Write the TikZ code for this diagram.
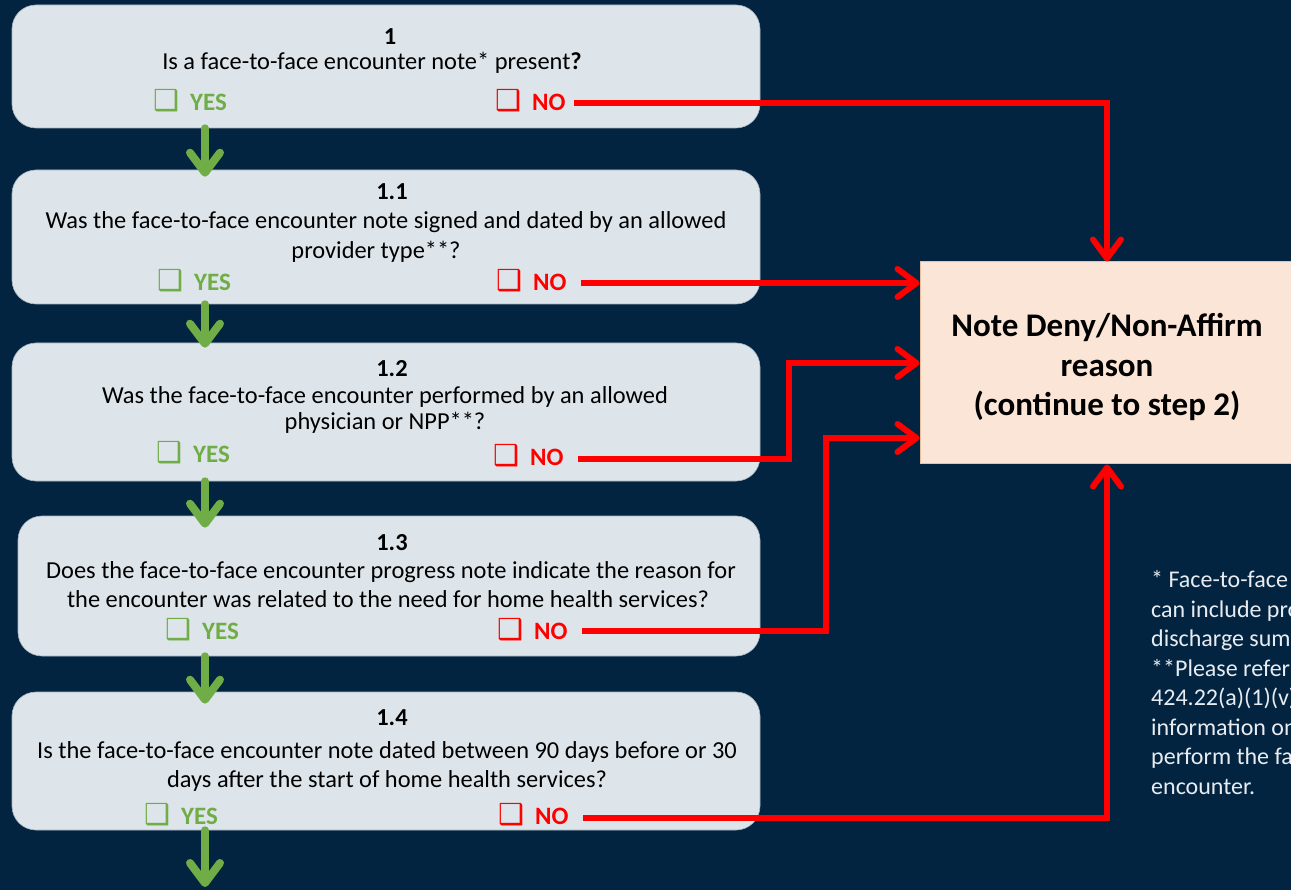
\documentclass[tikz,border=0pt]{standalone}
\usepackage{fontspec}
\setmainfont{Carlito}
\newfontfamily\symfont{DejaVu Sans}
\usetikzlibrary{arrows.meta,calc}
\definecolor{navy}{RGB}{2,36,64}
\definecolor{stepfill}{RGB}{222,229,234}
\definecolor{stepline}{RGB}{165,178,192}
\definecolor{okgreen}{RGB}{112,173,71}
\definecolor{nored}{RGB}{255,0,0}
\definecolor{denyfill}{RGB}{251,229,214}
\definecolor{denyline}{RGB}{232,192,160}
\definecolor{notetext}{RGB}{232,236,240}
% shadowed check box followed by its answer
\newcommand{\chk}[1]{\makebox[37pt][l]{\symfont\fontsize{29}{29}\selectfont ❑}#1}
\begin{document}
\begin{tikzpicture}[x=1pt,y=-1pt,
  stepbox/.style={draw=stepline, line width=0.6pt, fill=stepfill,
    rounded corners=24pt, minimum width=748pt, inner sep=0pt},
  numtxt/.style={font=\fontsize{24.4}{29}\selectfont\bfseries, text=black,
    inner sep=0pt, anchor=base},
  qtxt/.style={font=\fontsize{24.4}{29}\selectfont, text=black,
    inner sep=0pt, anchor=base},
  yesbox/.style={font=\fontsize{25}{29}\selectfont\bfseries, text=okgreen,
    inner sep=0pt, anchor=base west},
  nobox/.style={font=\fontsize{25}{29}\selectfont\bfseries, text=nored,
    inner sep=0pt, anchor=base west},
  goarrow/.style={draw=okgreen, line width=8pt, line cap=round,
    -{Straight Barb[length=20pt, width=30pt, line cap=round, line join=round]}},
  stoparrow/.style={draw=nored, line width=6pt, line join=miter,
    -{Straight Barb[length=19pt, width=28pt, line cap=round, line join=round]}},
]
% canvas
\useasboundingbox (0,0) rectangle (1291,890);
\fill[navy] (0,0) rectangle (1291,890);
\clip (0,0) rectangle (1291,890);

% question boxes
\node[stepbox, minimum height=123pt] (box1)  at (386,66.5) {};
\node[stepbox, minimum height=134pt] (box11) at (386,237) {};
\node[stepbox, minimum height=138pt] (box12) at (386,412) {};
\node[stepbox, minimum height=140pt, minimum width=742pt] (box13) at (389,586) {};
\node[stepbox, minimum height=138pt] (box14) at (386,761) {};

% outcome box
\node[draw=denyline, line width=1pt, fill=denyfill, minimum width=374pt,
  minimum height=202pt, inner sep=0pt] (deny) at (1107,363) {};
\node[align=center, inner sep=0pt, font=\fontsize{33}{39.5}\selectfont\bfseries]
  (denytxt) at (1107,367) {Note Deny/Non-Affirm\\reason\\(continue to step 2)};

% step 1
\node[numtxt] (n1) at (390,45) {1};
\node[qtxt] (q1) at (372,70) {Is a face-to-face encounter note* present\textbf{?}};
\node[yesbox] (yes1) at (153,111) {\chk{YES}};
\node[nobox] (no1) at (495,111) {\chk{NO}};

% step 1.1
\node[numtxt] (n11) at (392,200) {1.1};
\node[qtxt] (q11a) at (386,229) {Was the face-to-face encounter note signed and dated by an allowed};
\node[qtxt] (q11b) at (376,259) {provider type**?};
\node[yesbox] (yes11) at (157,291) {\chk{YES}};
\node[nobox] (no11) at (496,291) {\chk{NO}};

% step 1.2
\node[numtxt] (n12) at (392,377) {1.2};
\node[qtxt] (q12a) at (385,404) {Was the face-to-face encounter performed by an allowed};
\node[qtxt] (q12b) at (385,430) {physician or NPP**?};
\node[yesbox] (yes12) at (156,463) {\chk{YES}};
\node[nobox] (no12) at (493,466) {\chk{NO}};

% step 1.3
\node[numtxt] (n13) at (392,550) {1.3};
\node[qtxt] (q13a) at (391,578) {Does the face-to-face encounter progress note indicate the reason for};
\node[qtxt] (q13b) at (388,607) {the encounter was related to the need for home health services?};
\node[yesbox] (yes13) at (165,639) {\chk{YES}};
\node[nobox] (no13) at (497,639) {\chk{NO}};

% step 1.4
\node[numtxt] (n14) at (392,725) {1.4};
\node[qtxt] (q14a) at (387,758) {Is the face-to-face encounter note dated between 90 days before or 30};
\node[qtxt] (q14b) at (387,787) {days after the start of home health services?};
\node[yesbox] (yes14) at (144,824) {\chk{YES}};
\node[nobox] (no14) at (498,824) {\chk{NO}};

% footnotes (base anchor sits on the last line)
\node[anchor=base west, align=left, inner sep=0pt, text=notetext,
  font=\fontsize{24}{29.5}\selectfont] (notes) at (1151,794)
  {* Face-to-face encounter note\\can include progress notes,\\discharge summary, etc.\\**Please refer to 42 CFR\\424.22(a)(1)(v) for more\\information on who may\\perform the face-to-face\\encounter.};

% YES path
\coordinate (gx) at (205,0);
\coordinate (exit) at (205,887);
\draw[goarrow] (box1.south -| gx)  -- ($(box11.north -| gx)+(0,7)$);
\draw[goarrow] (box11.south -| gx) -- ($(box12.north -| gx)+(0,5)$);
\draw[goarrow] (box12.south -| gx) -- ($(box13.north -| gx)+(0,12)$);
\draw[goarrow] (box13.south -| gx) -- ($(box14.north -| gx)+(0,12)$);
\draw[goarrow] (box14.south -| gx) -- (exit);

% NO paths
\coordinate (j12) at ($(deny.west)+(-131,0)$);
\coordinate (j13) at ($(deny.west)+(-94,75)$);
\draw[stoparrow] ([xshift=8pt]no1.east |- 0,103) -| (deny.north);
\draw[stoparrow] ([xshift=14pt]no11.east |- 0,283) -- (deny.west |- 0,283);
\draw[stoparrow] ([xshift=14pt]no12.east |- 0,459) -| (j12) -- (deny.west);
\draw[stoparrow] ([xshift=14pt]no13.east |- 0,631) -| (j13) -- (j13 -| deny.west);
\draw[stoparrow] ([xshift=14pt]no14.east |- 0,818) -| (deny.south);
\end{tikzpicture}
\end{document}
